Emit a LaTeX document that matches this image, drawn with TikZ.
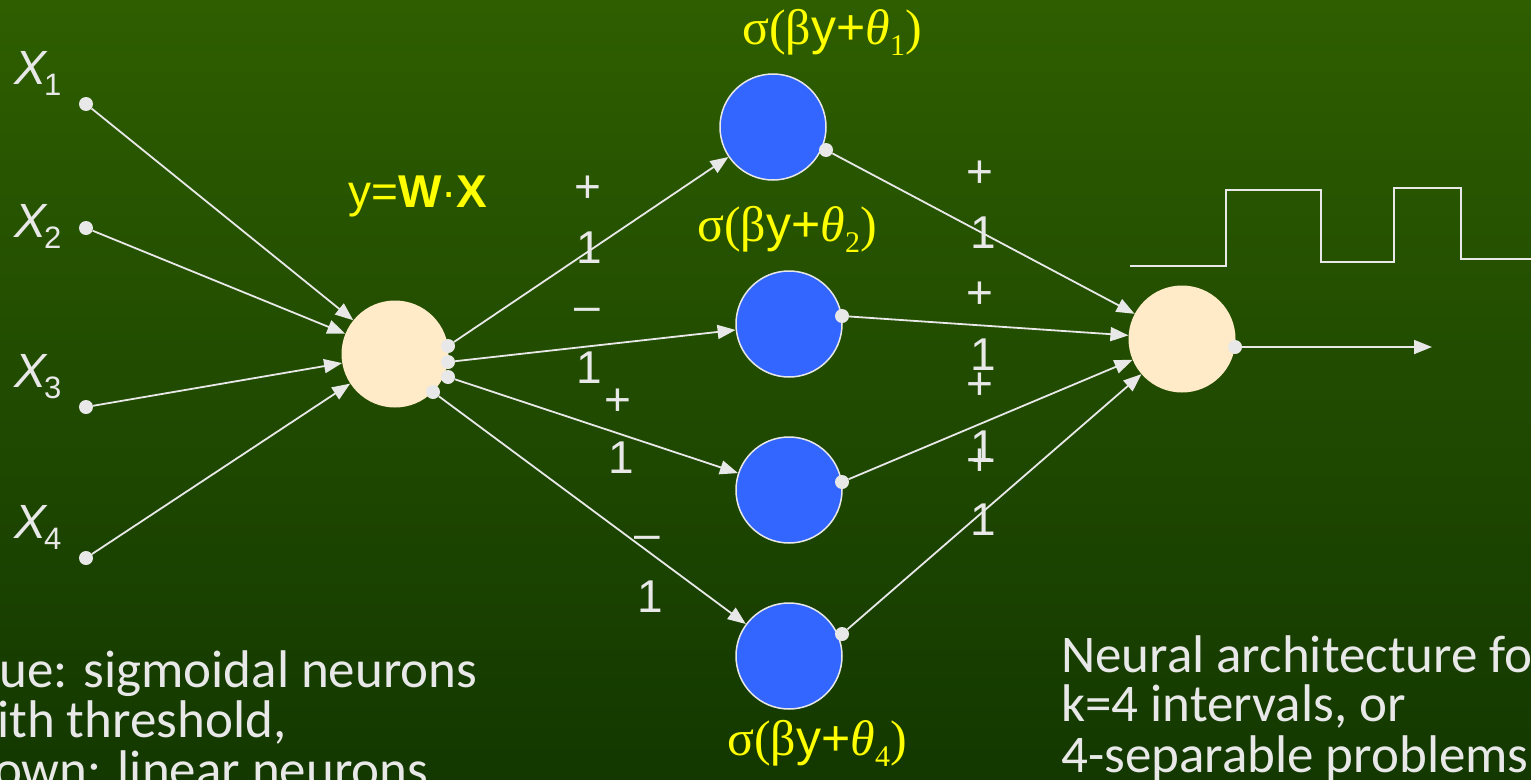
\documentclass[tikz,border=0pt]{standalone}
\usepackage{fontspec}
\setmainfont{Liberation Sans}
\newfontfamily\serf{Liberation Serif}
\newfontfamily\calf{Carlito}
\usetikzlibrary{arrows.meta}
\definecolor{bgtop}{RGB}{46,94,0}
\definecolor{bgbot}{RGB}{19,56,0}
\definecolor{ln}{RGB}{232,232,232}
\definecolor{cream}{RGB}{255,235,200}
\definecolor{nblue}{RGB}{51,102,255}
\definecolor{yel}{RGB}{255,255,0}
\tikzset{
  dot/.style={circle, fill=ln, inner sep=0pt, minimum size=14pt},
  hid/.style={circle, fill=cream, inner sep=0pt, minimum size=107pt},
  neu/.style={circle, fill=nblue, draw=ln, line width=1.5pt, inner sep=0pt, minimum size=106pt},
  conn/.style={draw=ln, line width=1.8pt, -{Triangle[length=18pt,width=14pt]}},
  wire/.style={draw=ln, line width=1.8pt},
  lab/.style={text=ln, font=\fontsize{46}{50}\selectfont, inner sep=0pt},
  xlab/.style={text=ln, font=\fontsize{48}{50}\selectfont, inner sep=0pt, anchor=base west},
  wlab/.style={text=yel, font=\fontsize{46}{50}\selectfont, inner sep=0pt, anchor=base west},
  sig/.style={text=yel, font=\fontsize{50}{54}\selectfont, inner sep=0pt, anchor=base west},
  note/.style={text=ln, font=\calf\fontsize{53}{50}\selectfont, inner sep=0pt, anchor=base west},
}
\newcommand{\xl}[1]{{\itshape X}\kern-2pt\raisebox{-11pt}{\fontsize{31}{31}\selectfont #1}}
\newcommand{\sg}[1]{{\serf σ(β}y+{\serf\itshape θ}{\serf\raisebox{-11pt}{\fontsize{30}{30}\selectfont #1})}}
\begin{document}
\begin{tikzpicture}[x=1pt,y=-1pt]
\useasboundingbox (0,0) rectangle (1531,779);
\fill[top color=bgtop, bottom color=bgbot] (0,0) rectangle (1531,779);

% input labels and dots
\node[xlab] (lx1) at (14,84) {\xl{1}};
\node[xlab] (lx2) at (14,237) {\xl{2}};
\node[xlab] (lx3) at (14,387) {\xl{3}};
\node[xlab] (lx4) at (14,538) {\xl{4}};
\node[dot] (x1) at (86,104) {};
\node[dot] (x2) at (86,228) {};
\node[dot] (x3) at (86,407) {};
\node[dot] (x4) at (86,558) {};

% hidden linear neuron
\node[hid] (h) at (395,354) {};
\node[dot] (h1) at (448,346) {};
\node[dot] (h2) at (448,362) {};
\node[dot] (h3) at (448,377) {};
\node[dot] (h4) at (433,392) {};
\node[wlab] (yw) at (348,207) {y=\textbf{W}·\textbf{X}};

% sigmoid neurons
\node[neu] (n1) at (773,127) {};
\node[neu] (n2) at (789,324) {};
\node[neu] (n3) at (789,490) {};
\node[neu] (n4) at (789,656) {};
\node[dot] (d1) at (826,150) {};
\node[dot] (d2) at (842,316) {};
\node[dot] (d3) at (842,482) {};
\node[dot] (d4) at (842,634) {};
\node[sig] (s1) at (742,44) {\sg{1}};
\node[sig] (s2) at (697,241) {\sg{2}};
\node[sig] (s4) at (727,755) {\sg{4}};

% output neuron
\node[hid] (o) at (1182,339) {};
\node[dot] (od) at (1235,347) {};
\coordinate (oe) at (1432,347);

% connectors
\draw[conn] (x1) -- (h);
\draw[conn] (x2) -- (h);
\draw[conn] (x3) -- (h);
\draw[conn] (x4) -- (h);
\draw[conn] (h1) -- (n1);
\draw[conn] (h2) -- (n2);
\draw[conn] (h3) -- (n3);
\draw[conn] (h4) -- (n4);
\draw[conn] (d1) -- (o);
\draw[conn] (d2) -- (o);
\draw[conn] (d3) -- (o);
\draw[conn] (d4) -- (o);
\draw[conn] (od) -- (oe);

% weights, first layer
\node[lab] (wa1) at (588,189) {+};
\node[lab, anchor=base] (wa2) at (589,263) {1};
\node[lab] (wb1) at (587,315) {–};
\node[lab, anchor=base] (wb2) at (589,383) {1};
\node[lab] (wc1) at (618,402) {+};
\node[lab, anchor=base] (wc2) at (621,473) {1};
\node[lab] (wd1) at (647,543) {–};
\node[lab, anchor=base] (wd2) at (650,612) {1};
% weights, second layer
\node[lab] (va1) at (980,174) {+};
\node[lab, anchor=base] (va2) at (983,248) {1};
\node[lab] (vb1) at (980,295) {+};
\node[lab, anchor=base] (vb2) at (983,370) {1};
\node[lab] (vc1) at (980,386) {+};
\node[lab, anchor=base] (vc2) at (983,462) {1};
\node[lab] (vd1) at (980,462) {+};
\node[lab, anchor=base] (vd2) at (983,535) {1};

% step function
\draw[wire] (1130,266) -- (1226,266) -- (1226,190) -- (1321,190) -- (1321,262)
  -- (1394,262) -- (1394,188) -- (1461,188) -- (1461,259) -- (1531,259);

% notes
\node[note] (ta) at (-1,687) {ue: sigmoidal neurons};
\node[note] (tb) at (-3,737) {ith threshold,};
\node[note] (tc) at (-6,787) {own: linear neurons};
\node[note] (ra) at (1061,672) {Neural architecture fo};
\node[note] (rb) at (1061,721) {k=4 intervals, or};
\node[note] (rc) at (1061,772) {4-separable problems};
\end{tikzpicture}
\end{document}
